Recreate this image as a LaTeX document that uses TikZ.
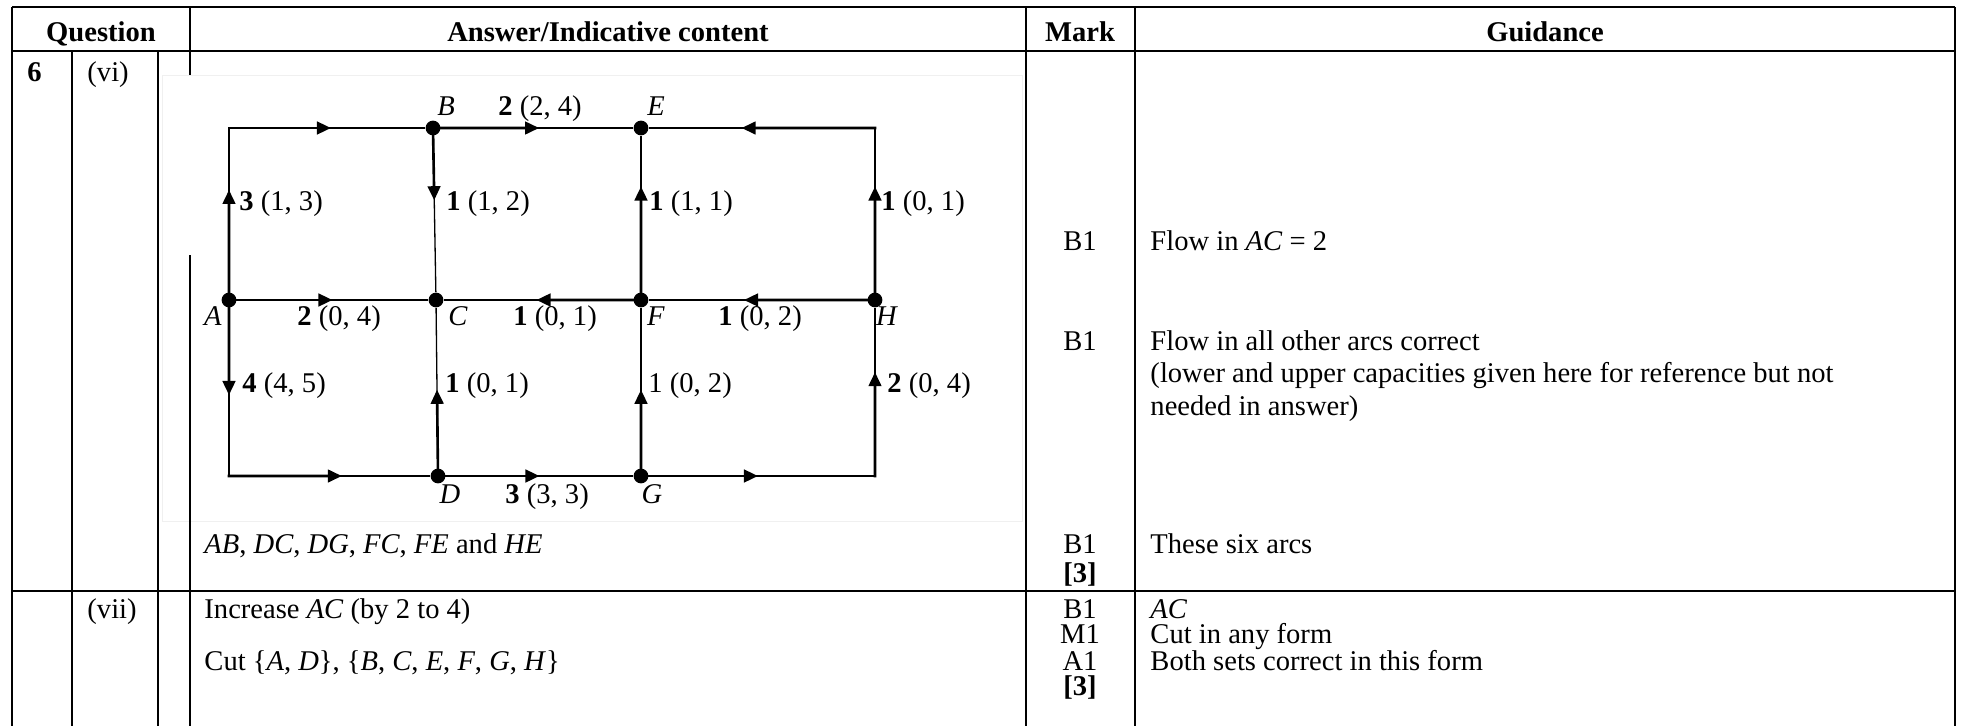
\documentclass[tikz,border=0pt]{standalone}
\usepackage{fontspec}
\setmainfont{Liberation Serif}
\usetikzlibrary{arrows.meta,calc}

\tikzset{
  rule/.style={line width=1.1pt},
  vdot/.style={circle,fill,inner sep=0pt,minimum size=6.2pt},
  arcthin/.style={line width=0.55pt},
  arcthick/.style={line width=1.1pt,line cap=rect,-{Triangle[length=5.9pt,width=5.3pt]}},
  txt/.style={inner sep=0pt,anchor=base west},
  ctxt/.style={inner sep=0pt,anchor=base},
  hd/.style={ctxt,font=\fontsize{12}{14}\selectfont\bfseries},
}
\newcommand\flowarc[3]{%
  \draw[arcthin] (#1) -- (#2);
  \draw[arcthick] (#1) -- ($(#1)!#3!(#2)$);}

\begin{document}
\begin{tikzpicture}[x=0.42pt,y=-0.42pt,font=\fontsize{12}{14}\selectfont]
\useasboundingbox (0,0) rectangle (1963,726);

% pasted picture
\draw[black!6,fill=white] (162,75) rectangle (1022,521);

% table
\draw[rule] (12,7) -- (1955,7);
\draw[rule] (12,51) -- (1955,51);
\draw[rule] (12,591) -- (1955,591);
\foreach \x in {12,1026,1135,1955} \draw[rule] (\x,7) -- (\x,726);
\foreach \x in {72,158} \draw[rule] (\x,51) -- (\x,726);
\draw[rule] (190,7) -- (190,75);
\draw[rule] (190,255) -- (190,726);

\node[hd] (hq) at (101,41) {Question};
\node[hd] (ha) at (608,41) {Answer/Indicative content};
\node[hd] (hm) at (1080,41) {Mark};
\node[hd] (hg) at (1545,41) {Guidance};

\node[txt,font=\fontsize{12}{14}\selectfont\bfseries] (q6) at (27,81) {6};
\node[txt] (q6a) at (87,81) {(vi)};
\node[txt] (q7) at (87,618) {(vii)};

\node[txt] (arcs) at (204,553) {\textit{AB}, \textit{DC}, \textit{DG}, \textit{FC}, \textit{FE} and \textit{HE}};
\node[txt] (incr) at (204,618) {Increase \textit{AC} (by 2 to 4)};
\node[txt] (cut) at (204,670) {Cut \{\textit{A}, \textit{D}\}, \{\textit{B}, \textit{C}, \textit{E}, \textit{F}, \textit{G}, \textit{H}\}};

\foreach \y/\m [count=\i] in {250/B1,350/B1,553/B1,582/\textbf{[3]},618/B1,643/M1,670/A1,695/\textbf{[3]}}
  \node[ctxt] (m\i) at (1080,\y) {\m};

\node[txt] (g1) at (1150,250) {Flow in \textit{AC} = 2};
\node[txt] (g2) at (1150,350) {Flow in all other arcs correct};
\node[txt] (g3) at (1150,382) {(lower and upper capacities given here for reference but not};
\node[txt] (g4) at (1150,415) {needed in answer)};
\node[txt] (g5) at (1150,553) {These six arcs};
\node[txt] (g6) at (1150,618) {\textit{AC}};
\node[txt] (g7) at (1150,643) {Cut in any form};
\node[txt] (g8) at (1150,670) {Both sets correct in this form};

% network
\coordinate (tl) at (229,128);
\coordinate (tr) at (875,128);
\coordinate (bl) at (229,476);
\coordinate (br) at (875,476);
\node[vdot] (A) at (229,300) {};
\node[vdot] (B) at (433,128) {};
\node[vdot] (C) at (436,300) {};
\node[vdot] (D) at (438,476) {};
\node[vdot] (E) at (641,128) {};
\node[vdot] (F) at (641,300) {};
\node[vdot] (G) at (641,476) {};
\node[vdot] (H) at (875,300) {};

\flowarc{A}{tl}{.64} \flowarc{tl}{B}{.5}
\flowarc{B}{E}{.51}
\flowarc{H}{tr}{.66} \flowarc{tr}{E}{.57}
\flowarc{B}{C}{.42}
\flowarc{F}{E}{.66}
\flowarc{A}{C}{.5}
\flowarc{F}{C}{.51}
\flowarc{H}{F}{.56}
\flowarc{A}{bl}{.54} \flowarc{bl}{D}{.54}
\flowarc{D}{C}{.49}
\flowarc{G}{F}{.49}
\flowarc{D}{G}{.5}
\flowarc{G}{br}{.5} \flowarc{br}{H}{.59}

\node[ctxt] (lB) at (446,115) {\textit{B}};
\node[ctxt] (lE) at (656,115) {\textit{E}};
\node[ctxt] (lA) at (213,325) {\textit{A}};
\node[ctxt] (lC) at (458,325) {\textit{C}};
\node[ctxt] (lF) at (656,325) {\textit{F}};
\node[ctxt] (lH) at (887,325) {\textit{H}};
\node[ctxt] (lD) at (450,503) {\textit{D}};
\node[ctxt] (lG) at (652,503) {\textit{G}};

\node[ctxt] (fBE) at (540,115) {\textbf{2} (2, 4)};
\node[txt] (fAB) at (239,210) {\textbf{3} (1, 3)};
\node[txt] (fBC) at (446,210) {\textbf{1} (1, 2)};
\node[txt] (fFE) at (649,210) {\textbf{1} (1, 1)};
\node[txt] (fHE) at (881,210) {\textbf{1} (0, 1)};
\node[txt] (fAC) at (297,325) {\textbf{2} (0, 4)};
\node[txt] (fFC) at (513,325) {\textbf{1} (0, 1)};
\node[txt] (fHF) at (718,325) {\textbf{1} (0, 2)};
\node[txt] (fAD) at (242,392) {\textbf{4} (4, 5)};
\node[txt] (fDC) at (445,392) {\textbf{1} (0, 1)};
\node[txt] (fGF) at (648,392) {1 (0, 2)};
\node[txt] (fGH) at (887,392) {\textbf{2} (0, 4)};
\node[txt] (fDG) at (505,503) {\textbf{3} (3, 3)};
\end{tikzpicture}
\end{document}
